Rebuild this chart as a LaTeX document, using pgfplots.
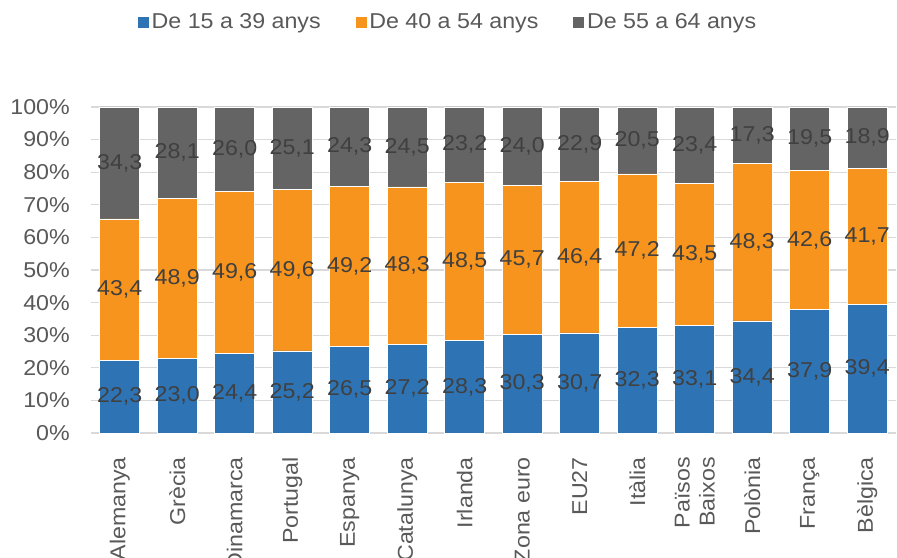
\documentclass[border=0pt]{standalone}
\usepackage{pgfplots}
\pgfplotsset{compat=1.18}
\usepackage{fontspec}
\setmainfont{Liberation Sans}[FakeStretch=1.08]
\definecolor{cblue}{HTML}{2E74B5}
\definecolor{corange}{HTML}{F7941D}
\definecolor{cgray}{HTML}{646464}
\definecolor{labtxt}{HTML}{404040}
\definecolor{ticktxt}{HTML}{595959}
\definecolor{gridc}{HTML}{D9D9D9}
\begin{document}
\fontsize{21.5bp}{25bp}\selectfont
\begin{tikzpicture}
\begin{axis}[
  scale only axis, width=805bp, height=326bp,
  ybar stacked, bar width=40bp,
  xmin=-0.5, xmax=13.5, ymin=0, ymax=100,
  xtick={0,...,13},
  xticklabels={Alemanya,Grècia,Dinamarca,Portugal,Espanya,Catalunya,Irlanda,Zona euro,EU27,Itàlia,{Països\\Baixos},Polònia,França,Bèlgica},
  ytick={0,10,...,100},
  yticklabel={\pgfmathprintnumber{\tick}\%},
  /pgf/number format/assume math mode=true,
  ymajorgrids, grid style={gridc, line width=1.2bp},
  axis lines*=left,
  x axis line style={gridc, line width=1.2bp, -},
  y axis line style={draw=none},
  major tick length=0pt,
  xticklabel style={rotate=90, anchor=east, align=right, inner sep=0pt, text=ticktxt},
  xticklabel shift=24bp,
  yticklabel style={anchor=east, inner sep=0pt, text=ticktxt},
  yticklabel shift=21bp,
  visualization depends on={rawy\as\rawy},
  nodes near coords={\pgfmathprintnumber[fixed,fixed zerofill,precision=1,use comma]{\rawy}},
  nodes near coords align={anchor=center},
  every node near coord/.append style={anchor=center, text=labtxt, inner sep=0pt},
  legend columns=3,
  legend style={draw=none, fill=none, at={(0.443,1.26)}, anchor=center,
    text=ticktxt, nodes={inner sep=2bp},
    /tikz/every even column/.append style={column sep=32bp}},
  legend image code/.code={\fill[#1] (0bp,-6bp) rectangle (12bp,6bp);},
]
\addplot[fill=cblue, draw=white, line width=0.6bp] coordinates {
(0,22.3) (1,23.0) (2,24.4) (3,25.2) (4,26.5) (5,27.2) (6,28.3) (7,30.3) (8,30.7) (9,32.3) (10,33.1) (11,34.4) (12,37.9) (13,39.4)};
\addplot[fill=corange, draw=white, line width=0.6bp] coordinates {
(0,43.4) (1,48.9) (2,49.6) (3,49.6) (4,49.2) (5,48.3) (6,48.5) (7,45.7) (8,46.4) (9,47.2) (10,43.5) (11,48.3) (12,42.6) (13,41.7)};
\addplot[fill=cgray, draw=white, line width=0.6bp] coordinates {
(0,34.3) (1,28.1) (2,26.0) (3,25.1) (4,24.3) (5,24.5) (6,23.2) (7,24.0) (8,22.9) (9,20.5) (10,23.4) (11,17.3) (12,19.5) (13,18.9)};
\legend{De 15 a 39 anys,De 40 a 54 anys,De 55 a 64 anys}
\end{axis}
\pgfresetboundingbox
\path[use as bounding box] (-91bp,-125bp) rectangle (806bp,433bp);
\end{tikzpicture}
\end{document}
